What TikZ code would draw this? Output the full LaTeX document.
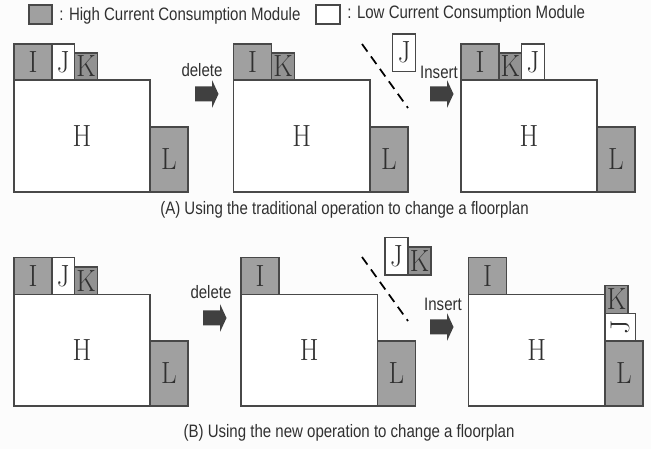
\documentclass[tikz,border=0pt]{standalone}
\usepackage{fontspec}
\setsansfont{Liberation Sans}
\definecolor{modgray}{HTML}{A0A0A0}
\definecolor{kgray}{HTML}{929292}
\definecolor{edge}{HTML}{484848}
\definecolor{arrowdark}{HTML}{404040}
\definecolor{ink}{HTML}{303030}
\newcommand{\modbox}[6]{%
  \pgfmathsetmacro{\mw}{(#4-#2)*0.75}\pgfmathsetmacro{\mh}{(#5-#3)*0.75}%
  \node[modbox,fill=#1,minimum width=\mw pt,minimum height=\mh pt] at ({(#2+#4)/2},{(#3+#5)/2}) {\scalebox{0.88}[1]{#6}};}
\newcommand{\fatarrow}[2]{%
  \fill[arrowdark] (#1,#2-7.5) -- (#1+17,#2-7.5) -- (#1+17,#2-14) -- (#1+23.5,#2) -- (#1+17,#2+14) -- (#1+17,#2+7.5) -- (#1,#2+7.5) -- cycle;}
\newcommand{\narrow}[1]{\scalebox{0.835}[1]{#1}}
\tikzset{
  modbox/.style={draw=edge,line width=0.8pt,inner sep=0pt,outer sep=0pt,text=ink,font=\fontsize{23}{23}\selectfont},
  lbl/.style={inner sep=0pt,text=ink,font=\sffamily\fontsize{13.5}{15}\selectfont},
  cut/.style={line width=1.3pt,black,dash pattern=on 7pt off 4.5pt}
}
\begin{document}
\begin{tikzpicture}[x=0.75pt,y=-0.75pt]
\useasboundingbox (0,0) rectangle (651,449);
\fill[white!99!black] (0,0) rectangle (651,449);
% legend
\modbox{modgray}{29}{5}{52}{24}{}
\node[lbl,anchor=west] (hi) at (59,16) {\narrow{: High Current Consumption Module}};
\modbox{white}{316}{5}{340}{24}{}
\node[lbl,anchor=west] (lo) at (347,14) {\narrow{: Low Current Consumption Module}};
% A1
\modbox{white}{14}{80}{150}{192}{H}
\modbox{modgray}{150}{127}{188}{192}{L}
\modbox{modgray}{14}{44}{52}{80}{I}
\modbox{white}{52}{44}{74.5}{80}{J}
\modbox{kgray}{74.5}{53}{97.5}{80}{K}
\node[lbl] (d1) at (202,70) {\narrow{delete}};
\fatarrow{195}{94}
% A2
\modbox{white}{233.5}{80}{370}{192}{H}
\modbox{modgray}{370}{127}{408}{192}{L}
\modbox{modgray}{233.5}{44}{271.5}{80}{I}
\modbox{kgray}{271.5}{53}{294.5}{80}{K}
\modbox{white}{392.7}{34}{415.7}{71.5}{J}
\draw[cut] (362,44) -- (408,108);
\node[lbl] (i1) at (439,72) {\narrow{Insert}};
\fatarrow{430}{94}
% A3
\modbox{white}{461}{80}{597}{192}{H}
\modbox{modgray}{597}{127}{635}{192}{L}
\modbox{modgray}{461}{44}{499}{80}{I}
\modbox{kgray}{499}{53}{521.7}{80}{K}
\modbox{white}{521.7}{44}{544.5}{80}{J}
\node[lbl] (ca) at (344.5,210) {\narrow{(A) Using the traditional operation to change a floorplan}};
% B1
\modbox{white}{14}{294.7}{150}{406}{H}
\modbox{modgray}{150}{341}{188}{406}{L}
\modbox{modgray}{14}{257.7}{52}{294.7}{I}
\modbox{white}{52}{257.7}{74.5}{294.7}{J}
\modbox{kgray}{74.5}{267}{97.5}{294.7}{K}
\node[lbl] (d2) at (211,292) {\narrow{delete}};
\fatarrow{203}{318}
% B2
\modbox{white}{241}{294.7}{377.5}{406}{H}
\modbox{modgray}{377.5}{341}{415.5}{406}{L}
\modbox{modgray}{241}{257.7}{279}{294.7}{I}
\modbox{white}{385}{237.7}{408}{275}{J}
\modbox{kgray}{408}{247}{431}{275}{K}
\draw[cut] (362,257) -- (408,321);
\node[lbl] (i2) at (443,304) {\narrow{Insert}};
\fatarrow{430}{327}
% B3
\modbox{white}{468.5}{294.7}{605}{406}{H}
\modbox{modgray}{605}{341}{643}{406}{L}
\modbox{modgray}{468.5}{257.7}{506.5}{294.7}{I}
\modbox{white}{605}{313.5}{635.5}{341}{\rotatebox{90}{J}}
\modbox{kgray}{605}{285.5}{628}{313.5}{K}
\node[lbl] (cb) at (349,433) {\narrow{(B) Using the new operation to change a floorplan}};
\end{tikzpicture}
\end{document}
